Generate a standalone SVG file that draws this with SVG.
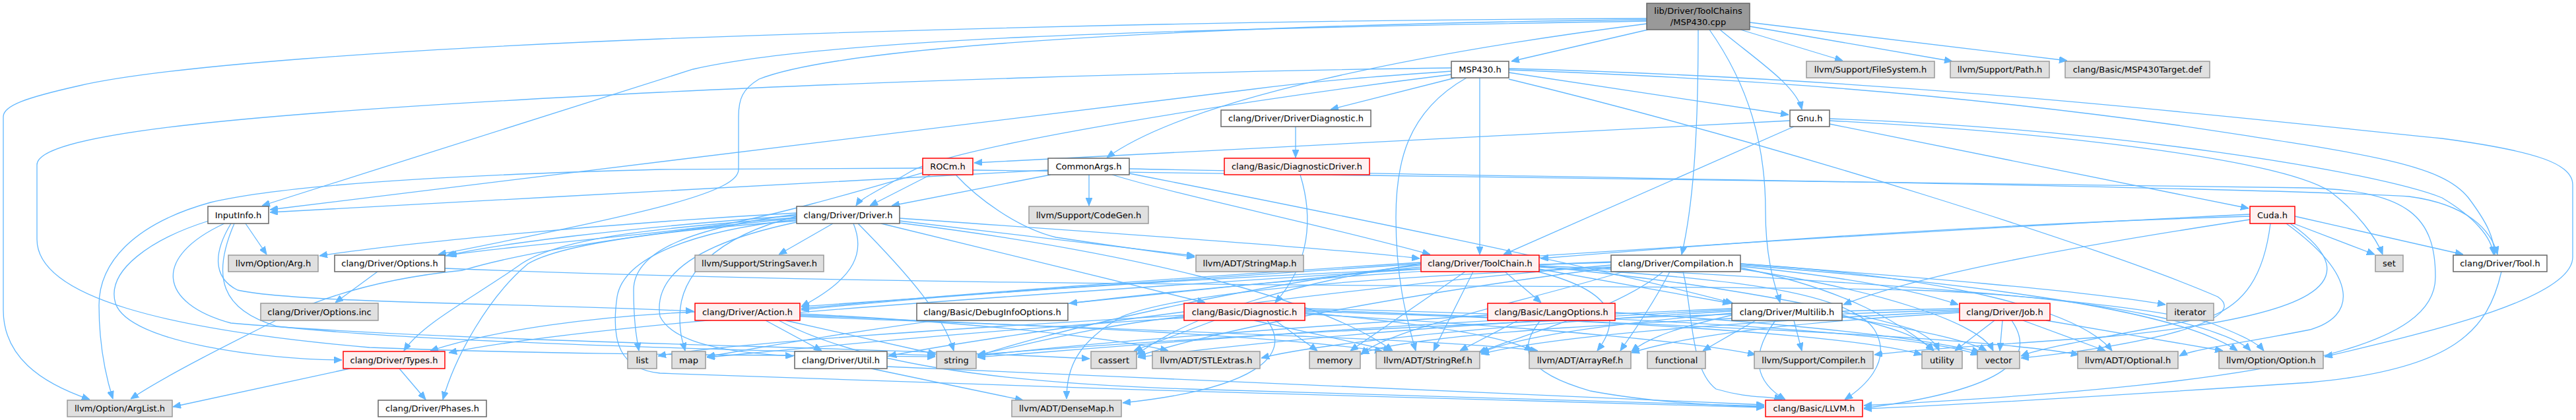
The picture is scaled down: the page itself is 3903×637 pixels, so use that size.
<svg xmlns="http://www.w3.org/2000/svg" width="3903" height="637" viewBox="0 0 3903 637">
<style>
.n rect{stroke-width:1.5}
.w rect{fill:#ffffff;stroke:#666666}
.g rect{fill:#e0e0e0;stroke:#999999}
.r rect{fill:#fff0f0;stroke:#ff0000}
.m rect{fill:#999999;stroke:#666666}
text{font-family:"DejaVu Sans","Liberation Sans",sans-serif;font-size:13px;fill:#000;text-anchor:middle}
#edges path{fill:none;stroke:#63b8ff;stroke-width:1.3;marker-end:url(#a)}
</style>
<defs>
<marker id="a" viewBox="0 0 12 10" refX="12" refY="5" markerWidth="12" markerHeight="10" markerUnits="userSpaceOnUse" orient="auto"><path d="M0,0 L12,5 L0,10 z" fill="#63b8ff" stroke="#63b8ff"/></marker>
</defs>
<rect width="3903" height="637" fill="#ffffff"/>
<g id="edges">
<path d="M2497,45 L2290,93"/>
<path d="M2606,45 C2660,90 2722,130 2730,166"/>
<path d="M2637,45 L2792,92"/>
<path d="M2651,40 L2958,93"/>
<path d="M2651,34 L3132,92"/>
<path d="M2573,45 C2573,180 2568,300 2548,386"/>
<path d="M2590,45 C2650,130 2675,220 2675,320 C2675,400 2692,440 2697,459"/>
<path d="M2495,36 C2150,80 1800,150 1677,239"/>
<path d="M2495,32 C1700,45 1250,60 1050,105 L397,312"/>
<path d="M2495,30 C2000,35 1300,60 1150,120 C1125,135 1119,150 1119,177 L1119,257 C1119,290 1000,320 664,386"/>
<path d="M2495,28 C2000,30 1500,40 1000,59 C600,75 250,100 120,130 C40,148 5,160 5,177 L5,470 C5,540 60,580 136,606"/>
<path d="M2205,118 L2016,166"/>
<path d="M2286,110 L2710,174"/>
<path d="M2242,118 L2242,386"/>
<path d="M2222,118 C2130,170 2115,250 2115,330 C2115,420 2130,480 2145,532"/>
<path d="M2199,103 C1800,108 1300,125 1000,140 C400,170 56,200 56,250 L56,363 C56,450 250,500 560,527 C900,540 1200,538 1417,541"/>
<path d="M2199,108 C2100,115 2000,122 1900,135 L409,318"/>
<path d="M2199,113 C1900,150 1450,220 1380,260 C1330,290 1305,300 1297,312"/>
<path d="M2286,106 C2600,118 2900,135 3300,190 C3600,235 3700,250 3740,300 C3770,340 3778,360 3780,386"/>
<path d="M2286,104 C2900,120 3400,180 3700,210 C3850,230 3898,250 3898,280 L3898,390 C3898,450 3700,500 3522,541"/>
<path d="M2286,120 C2700,220 3200,380 3360,450 C3420,490 3200,530 3062,543"/>
<path d="M1963,192 L1963,239"/>
<path d="M1970,265 C1990,330 1985,400 1932,459"/>
<path d="M2712,183 L1476,247"/>
<path d="M2718,192 L2278,386"/>
<path d="M2772,188 L3407,316"/>
<path d="M2772,183 C3100,200 3450,240 3530,290 C3570,320 3600,360 3610,386"/>
<path d="M2772,180 C3200,195 3600,260 3700,300 C3750,330 3775,360 3778,386"/>
<path d="M1410,265 L1318,312"/>
<path d="M1398,255 C1200,256 1100,256 1000,257 C700,265 430,280 319,307 C200,340 150,400 150,463 C150,520 160,570 171,605"/>
<path d="M1398,262 C1300,290 1200,320 1100,340 C950,360 800,370 680,387"/>
<path d="M1448,265 C1480,300 1540,345 1600,360 C1700,375 1760,383 1810,390"/>
<path d="M1474,258 C2000,268 2900,275 3500,285 C3650,290 3690,330 3690,420 C3690,520 3500,580 2824,615"/>
<path d="M1592,265 L1351,312"/>
<path d="M1650,265 L1650,312"/>
<path d="M1588,258 C1300,275 800,300 409,322"/>
<path d="M1711,263 C2000,320 2400,400 2626,460"/>
<path d="M1685,265 C1800,300 2000,340 2167,386"/>
<path d="M1711,256 C2300,268 3400,283 3650,298 C3740,310 3775,350 3784,386"/>
<path d="M372,339 L404,386"/>
<path d="M316,335 C230,362 160,410 175,460 C195,520 400,545 518,546"/>
<path d="M350,339 C325,380 320,420 360,440 C450,460 800,460 1051,472"/>
<path d="M355,339 C320,420 335,470 420,495 C650,520 1100,530 1417,539"/>
<path d="M340,339 C230,390 240,460 350,490 C700,520 1300,525 1651,544"/>
<path d="M1262,339 L1180,386"/>
<path d="M1363,335 L1810,388"/>
<path d="M1335,339 L1826,459"/>
<path d="M1293,339 C1310,380 1300,420 1214,465"/>
<path d="M1363,331 C1700,355 2000,375 2151,392"/>
<path d="M1207,325 C1050,345 960,380 960,440 C960,490 965,515 968,532"/>
<path d="M1207,328 C1080,360 1030,420 1030,480 C1030,510 1035,520 1038,532"/>
<path d="M1207,330 C1000,345 850,360 790,400 C720,450 640,490 612,532"/>
<path d="M1207,335 C1000,350 850,370 800,400 C740,450 690,540 671,606"/>
<path d="M1207,323 C900,340 600,370 484,388"/>
<path d="M1207,327 C950,345 750,370 676,388"/>
<path d="M1207,331 C1000,350 800,380 701,410 C600,420 520,440 450,470 C350,520 250,570 198,605"/>
<path d="M1207,337 C1050,370 990,420 1000,480 C1020,520 1100,535 1202,540"/>
<path d="M1363,338 C1700,380 2000,450 2110,532"/>
<path d="M1207,333 C1050,350 945,390 935,450 C925,520 940,560 1000,566 C1500,585 2300,610 2673,618"/>
<path d="M1300,339 C1380,420 1430,480 1445,532"/>
<path d="M1053,473 C900,480 750,500 652,532"/>
<path d="M1160,486 L1245,532"/>
<path d="M1190,486 L1418,537"/>
<path d="M1212,476 C1500,490 1700,515 1770,532"/>
<path d="M1212,480 C1700,500 2200,515 2330,532"/>
<path d="M1212,478 C1600,495 1950,510 2095,533"/>
<path d="M1180,486 C1300,550 1500,580 1800,590 C2200,600 2500,612 2673,616"/>
<path d="M1320,559 L1550,607"/>
<path d="M1344,556 C1800,575 2300,600 2673,614"/>
<path d="M530,559 L262,617"/>
<path d="M605,559 L645,606"/>
<path d="M572,412 L508,459"/>
<path d="M674,407 C1500,440 2500,430 2900,440 C3200,450 3380,500 3410,532"/>
<path d="M2280,412 L2335,459"/>
<path d="M2232,412 L2172,532"/>
<path d="M2220,412 L2046,532"/>
<path d="M2332,408 L2622,460"/>
<path d="M2330,412 C2440,440 2460,480 2420,532"/>
<path d="M2332,405 C2600,420 2800,440 2840,500 C2870,550 2820,590 2795,606"/>
<path d="M2332,403 C2700,420 3200,450 3350,490 C3400,510 3420,520 3430,532"/>
<path d="M2332,404 C2600,430 2800,470 2900,500 C2930,515 2935,525 2938,532"/>
<path d="M2153,400 C1950,430 1800,480 1722,538"/>
<path d="M2153,402 C1900,430 1600,500 1481,540"/>
<path d="M2153,398 C1800,420 1400,450 1214,468"/>
<path d="M2153,405 C1900,430 1750,445 1620,460"/>
<path d="M2153,408 C1500,450 900,490 680,535"/>
<path d="M2637,404 C2800,420 2900,440 2967,462"/>
<path d="M2637,400 C2900,420 3150,440 3281,462"/>
<path d="M2530,412 C2500,470 2470,510 2455,532"/>
<path d="M2520,412 C2450,470 2300,510 2240,535"/>
<path d="M2550,412 C2565,470 2560,560 2600,590 C2650,605 2680,600 2700,606"/>
<path d="M2441,405 C2100,420 1800,440 1700,480 C1630,520 1616,560 1616,605"/>
<path d="M2441,398 C2000,410 1500,440 1214,470"/>
<path d="M2441,402 C2000,440 1500,510 1346,540"/>
<path d="M2441,406 C2100,450 1850,500 1724,540"/>
<path d="M2441,397 C1800,420 1300,500 1071,541"/>
<path d="M2460,412 C2300,460 2100,500 2062,538"/>
<path d="M2637,402 C3000,430 3300,470 3390,532"/>
<path d="M2637,400 C2950,420 3150,470 3200,532"/>
<path d="M2637,406 C2800,440 2880,490 2930,532"/>
<path d="M2637,408 C2850,440 3000,490 3020,532"/>
<path d="M2718,486 L2730,532"/>
<path d="M2660,486 L2580,532"/>
<path d="M2690,486 C2650,540 2660,580 2705,606"/>
<path d="M2624,478 C2550,495 2500,510 2472,533"/>
<path d="M2624,475 C2450,490 2300,510 2244,535"/>
<path d="M2624,472 C2300,490 2000,520 1911,543"/>
<path d="M2624,470 C2200,490 1900,520 1724,542"/>
<path d="M2624,468 C2100,490 1700,525 1481,542"/>
<path d="M2791,478 C2860,495 2910,510 2930,532"/>
<path d="M2791,480 C2900,500 2980,515 3010,532"/>
<path d="M1840,486 L1718,532"/>
<path d="M1932,486 L1996,532"/>
<path d="M1900,486 L2108,532"/>
<path d="M1920,486 C1960,540 1900,590 1701,611"/>
<path d="M1794,478 C1500,495 1100,520 997,540"/>
<path d="M1794,482 C1500,500 1200,530 1071,542"/>
<path d="M1794,480 C1650,495 1550,525 1481,538"/>
<path d="M1977,474 C2150,490 2280,510 2322,532"/>
<path d="M1977,476 C2300,495 2550,515 2660,538"/>
<path d="M1977,472 C2500,490 3000,510 3150,538"/>
<path d="M1977,470 C2400,485 2800,505 2912,538"/>
<path d="M1977,468 C2500,480 2900,505 2998,538"/>
<path d="M2300,486 L2212,532"/>
<path d="M2334,486 C2300,527 2305,563 2410,593 C2500,610 2600,615 2673,617"/>
<path d="M2254,478 C1900,500 1600,525 1481,540"/>
<path d="M2447,474 C2700,490 2900,510 3000,534"/>
<path d="M3022,486 L2962,532"/>
<path d="M3034,486 L3030,532"/>
<path d="M3065,486 L3190,532"/>
<path d="M3100,486 L3368,532"/>
<path d="M3048,486 C3085,540 3050,590 2824,619"/>
<path d="M2969,474 C2700,490 2550,510 2472,535"/>
<path d="M2969,472 C2600,490 2350,510 2244,537"/>
<path d="M2969,470 C2500,485 2150,505 2062,536"/>
<path d="M2969,468 C2300,480 1700,520 1481,538"/>
<path d="M3475,339 L3598,386"/>
<path d="M3477,328 L3732,386"/>
<path d="M3409,333 C3100,380 2900,420 2793,462"/>
<path d="M3409,328 C3000,340 2600,370 2334,392"/>
<path d="M3409,325 C3000,345 2400,380 1214,465"/>
<path d="M3440,339 C3430,420 3400,460 3350,480 C3200,510 3100,525 3062,540"/>
<path d="M3464,339 C3575,420 3570,480 3500,500 C3400,520 3320,530 3302,540"/>
<path d="M3470,339 C3600,430 3500,480 3200,510 C3000,525 2900,530 2840,538"/>
<path d="M3790,412 C3770,500 3720,560 3500,580 C3200,600 2950,615 2824,620"/>
</g>
<g id="n_main" class="n m"><rect x="2495" y="5" width="156" height="40"/><text x="2573" y="21">lib/Driver/ToolChains</text><text x="2573" y="38">/MSP430.cpp</text></g>
<g id="n_msp430h" class="n w"><rect x="2199" y="93" width="87" height="25"/><text x="2242.5" y="110">MSP430.h</text></g>
<g id="n_filesystem" class="n g"><rect x="2737" y="93" width="194" height="25"/><text x="2834" y="110">llvm/Support/FileSystem.h</text></g>
<g id="n_path" class="n g"><rect x="2955" y="93" width="150" height="25"/><text x="3030" y="110">llvm/Support/Path.h</text></g>
<g id="n_targetdef" class="n g"><rect x="3129" y="93" width="219" height="25"/><text x="3238.5" y="110">clang/Basic/MSP430Target.def</text></g>
<g id="n_driverdiag" class="n w"><rect x="1850" y="167" width="227" height="25"/><text x="1963.5" y="184">clang/Driver/DriverDiagnostic.h</text></g>
<g id="n_gnu" class="n w"><rect x="2712" y="167" width="60" height="25"/><text x="2742" y="184">Gnu.h</text></g>
<g id="n_rocm" class="n r"><rect x="1398" y="240" width="76" height="25"/><text x="1436" y="257">ROCm.h</text></g>
<g id="n_commonargs" class="n w"><rect x="1588" y="240" width="123" height="25"/><text x="1649.5" y="257">CommonArgs.h</text></g>
<g id="n_diagdriver" class="n r"><rect x="1855" y="240" width="220" height="25"/><text x="1965" y="257">clang/Basic/DiagnosticDriver.h</text></g>
<g id="n_inputinfo" class="n w"><rect x="315" y="313" width="92" height="26"/><text x="361" y="330.5">InputInfo.h</text></g>
<g id="n_driver" class="n w"><rect x="1207" y="313" width="156" height="26"/><text x="1285" y="330.5">clang/Driver/Driver.h</text></g>
<g id="n_codegen" class="n g"><rect x="1559" y="313" width="181" height="26"/><text x="1649.5" y="330.5">llvm/Support/CodeGen.h</text></g>
<g id="n_cuda" class="n r"><rect x="3409" y="313" width="68" height="26"/><text x="3443" y="330.5">Cuda.h</text></g>
<g id="n_arg" class="n g"><rect x="346" y="387" width="136" height="25"/><text x="414" y="404">llvm/Option/Arg.h</text></g>
<g id="n_options" class="n w"><rect x="507" y="387" width="167" height="25"/><text x="590.5" y="404">clang/Driver/Options.h</text></g>
<g id="n_stringsaver" class="n g"><rect x="1053" y="387" width="195" height="25"/><text x="1150.5" y="404">llvm/Support/StringSaver.h</text></g>
<g id="n_stringmap" class="n g"><rect x="1812" y="387" width="163" height="25"/><text x="1893.5" y="404">llvm/ADT/StringMap.h</text></g>
<g id="n_toolchain" class="n r"><rect x="2153" y="387" width="179" height="25"/><text x="2242.5" y="404">clang/Driver/ToolChain.h</text></g>
<g id="n_compilation" class="n w"><rect x="2441" y="387" width="196" height="25"/><text x="2539" y="404">clang/Driver/Compilation.h</text></g>
<g id="n_set" class="n g"><rect x="3599" y="387" width="42" height="25"/><text x="3620" y="404">set</text></g>
<g id="n_tool" class="n w"><rect x="3717" y="387" width="142" height="25"/><text x="3788" y="404">clang/Driver/Tool.h</text></g>
<g id="n_optionsinc" class="n g"><rect x="395" y="460" width="178" height="26"/><text x="484" y="477.5">clang/Driver/Options.inc</text></g>
<g id="n_action" class="n r"><rect x="1053" y="460" width="159" height="26"/><text x="1132.5" y="477.5">clang/Driver/Action.h</text></g>
<g id="n_debuginfo" class="n w"><rect x="1389" y="460" width="229" height="26"/><text x="1503.5" y="477.5">clang/Basic/DebugInfoOptions.h</text></g>
<g id="n_diagnostic" class="n r"><rect x="1794" y="460" width="183" height="26"/><text x="1885.5" y="477.5">clang/Basic/Diagnostic.h</text></g>
<g id="n_langopts" class="n r"><rect x="2254" y="460" width="193" height="26"/><text x="2350.5" y="477.5">clang/Basic/LangOptions.h</text></g>
<g id="n_multilib" class="n w"><rect x="2624" y="460" width="167" height="26"/><text x="2707.5" y="477.5">clang/Driver/Multilib.h</text></g>
<g id="n_job" class="n r"><rect x="2969" y="460" width="137" height="26"/><text x="3037.5" y="477.5">clang/Driver/Job.h</text></g>
<g id="n_iterator" class="n g"><rect x="3283" y="460" width="71" height="26"/><text x="3318.5" y="477.5">iterator</text></g>
<g id="n_types" class="n r"><rect x="520" y="533" width="154" height="26"/><text x="597" y="550.5">clang/Driver/Types.h</text></g>
<g id="n_list" class="n g"><rect x="951" y="533" width="44" height="26"/><text x="973" y="550.5">list</text></g>
<g id="n_map" class="n g"><rect x="1018" y="533" width="51" height="26"/><text x="1043.5" y="550.5">map</text></g>
<g id="n_util" class="n w"><rect x="1204" y="533" width="140" height="26"/><text x="1274" y="550.5">clang/Driver/Util.h</text></g>
<g id="n_string" class="n g"><rect x="1419" y="533" width="60" height="26"/><text x="1449" y="550.5">string</text></g>
<g id="n_cassert" class="n g"><rect x="1653" y="533" width="69" height="26"/><text x="1687.5" y="550.5">cassert</text></g>
<g id="n_stlextras" class="n g"><rect x="1746" y="533" width="163" height="26"/><text x="1827.5" y="550.5">llvm/ADT/STLExtras.h</text></g>
<g id="n_memory" class="n g"><rect x="1984" y="533" width="77" height="26"/><text x="2022.5" y="550.5">memory</text></g>
<g id="n_stringref" class="n g"><rect x="2085" y="533" width="157" height="26"/><text x="2163.5" y="550.5">llvm/ADT/StringRef.h</text></g>
<g id="n_arrayref" class="n g"><rect x="2317" y="533" width="154" height="26"/><text x="2394" y="550.5">llvm/ADT/ArrayRef.h</text></g>
<g id="n_functional" class="n g"><rect x="2496" y="533" width="88" height="26"/><text x="2540" y="550.5">functional</text></g>
<g id="n_compiler" class="n g"><rect x="2658" y="533" width="180" height="26"/><text x="2748" y="550.5">llvm/Support/Compiler.h</text></g>
<g id="n_utility" class="n g"><rect x="2912" y="533" width="61" height="26"/><text x="2942.5" y="550.5">utility</text></g>
<g id="n_vector" class="n g"><rect x="2996" y="533" width="64" height="26"/><text x="3028" y="550.5">vector</text></g>
<g id="n_optional" class="n g"><rect x="3148" y="533" width="152" height="26"/><text x="3224" y="550.5">llvm/ADT/Optional.h</text></g>
<g id="n_option" class="n g"><rect x="3362" y="533" width="158" height="26"/><text x="3441" y="550.5">llvm/Option/Option.h</text></g>
<g id="n_arglist" class="n g"><rect x="102" y="607" width="159" height="25"/><text x="181.5" y="624">llvm/Option/ArgList.h</text></g>
<g id="n_phases" class="n w"><rect x="573" y="607" width="164" height="25"/><text x="655" y="624">clang/Driver/Phases.h</text></g>
<g id="n_densemap" class="n g"><rect x="1533" y="607" width="166" height="25"/><text x="1616" y="624">llvm/ADT/DenseMap.h</text></g>
<g id="n_llvm" class="n r"><rect x="2675" y="607" width="147" height="25"/><text x="2748.5" y="624">clang/Basic/LLVM.h</text></g>
</svg>
